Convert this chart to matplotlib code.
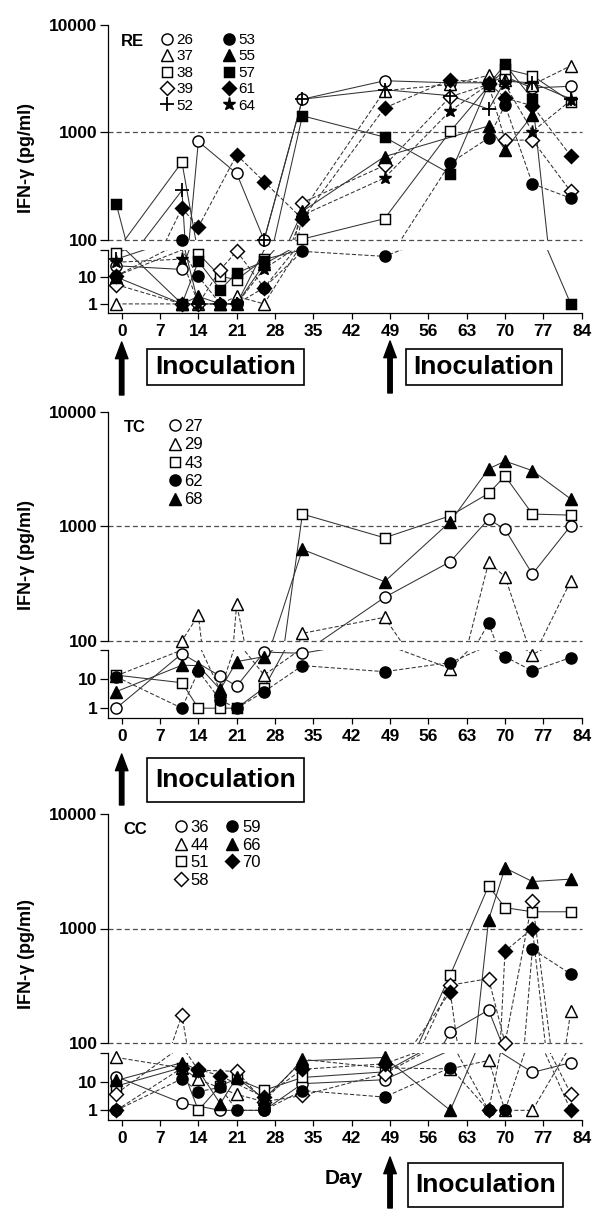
import numpy as np
import matplotlib
matplotlib.use('Agg')
import matplotlib.pyplot as plt
from matplotlib.lines import Line2D
from matplotlib.patches import Rectangle
from matplotlib.ticker import NullLocator

plt.rcParams['font.family'] = ['Liberation Sans', 'DejaVu Sans']
plt.rcParams['font.weight'] = 'bold'

W, H = 600, 1221
N = None

# sampling days and x ticks
days = [-1, 11, 14, 18, 21, 26, 33, 48, 60, 67, 70, 75, 82]
xticks = list(range(0, 85, 7))

# RE group (IFN-gamma, pg/ml)
re_ids = ['26', '37', '38', '39', '52', '53', '55', '57', '61', '64']
re_26 = [26, 19, 825, N, 416, 100, 2040, 3030, 2900, 2900, 3300, 2600, 2690]
re_37 = [1, 1, 1, 1, 1.9, 1, 185, 2450, 2800, 3400, 3100, 2780, 4170]
re_38 = [78, 530, 73, 10.5, 8, 45, 102, 158, 1024, 2700, 3900, 3380, 1940]
re_39 = [5.2, 1, 1, 18.6, 90, 4, 223, 494, 2150, 2800, 850, 850, 283]
re_52 = [46, 289, 1, 1, 1, 100, 2040, 2500, 2200, 1650, 3000, 2900, 2050]
re_53 = [11, 100, 10.5, 1, 1, 4, 89, 58, 520, 890, 1800, 333, 245]
re_55 = [10, 1, 1.9, 1, 1, 30, 185, 597, N, 1150, 690, 1450, N]
re_57 = [217, 1, 38, 3.4, 14, 38, 1430, 906, 413, 2800, 4300, 2050, 1]
re_61 = [11, 198, 132, N, 620, 349, 157, 1690, 3100, 2900, 2100, 1770, 608]
re_64 = [35, 46, 1, 1, 1, 20, 170, 378, 1590, 2800, 2800, 1020, 1990]

# TC group
tc_ids = ['27', '29', '43', '62', '68']
tc_27 = [1, 75, N, 12.6, 5.7, 85, 77, 239, 490, 1155, 937, 382, 1010]
tc_29 = [13, 100, 167, 4, 209, 13.8, 116, 160, 23, 483, 362, 70, 332]
tc_43 = [13.7, 7.5, 1, 1, 1, 5, 1276, 792, 1233, 1935, 2741, 1276, 1250]
tc_62 = [12, 1, 19, 1.9, 1, 3.7, 29, 18, 37, 142, 59, 19, 55]
tc_68 = [3.7, 30, 29, 4.4, 40, 59, 627, 328, 1096, 3165, 3703, 3055, 1730]

# CC group
cc_ids = ['36', '44', '51', '58', '59', '66', '70']
cc_36 = [15, 1.8, N, 1, N, 1, 8.5, 11.7, 125, 194, N, 21, 46]
cc_44 = [70, 30, 12, N, 3.6, 2, 60, 30, 28, 55, 1, 1, 190]
cc_51 = [7, 31, 1, 7.3, 12.4, 5, 14, 22, 393, 2360, 1520, 1400, 1400]
cc_58 = [3.8, 175, 25, N, 23, 2, 3.3, 19, 320, 365, 100, 1750, 3.8]
cc_59 = [1, 12.6, 4.5, 6.3, 1, 1, 4.9, 2.9, 31, 1, 1, 660, 400]
cc_66 = [11, 46, 25, 1.7, 14, 2.5, 53, 70, 1, 1190, 3380, 2570, 2700]
cc_70 = [1, 30, 27, 16, N, 2.9, 27, 42, 280, 1, 635, 1000, 1]

# marker, filled, dashed, size
OC = ('o', False, False, 8)
OT = ('^', False, True, 8)
OS = ('s', False, False, 7.5)
OD = ('D', False, True, 7.5)
PL = ('+', False, False, 9.5)
FC = ('o', True, True, 8)
FT = ('^', True, False, 8)
FS = ('s', True, False, 7.5)
FD = ('D', True, True, 7.5)
ST = ('*', True, True, 9.5)

X0, X1 = 108, 581.7


def rect(top, bottom):
    return [X0 / W, 1 - bottom / H, (X1 - X0) / W, (bottom - top) / H]


def draw_panel(tag, ids, series, styles, up, lo, ncol, leg_xy, leg_fs, leg_sp, col_sp, tag_xy, ylab_y):
    ax_up = fig.add_axes(rect(*up))
    ax_lo = fig.add_axes(rect(*lo))
    for ax, lim in ((ax_up, (100, 10000)), (ax_lo, (0.46, 100))):
        ax.set_yscale('log')
        ax.set_ylim(*lim)
        ax.set_xlim(-2.5, 84)
        ax.yaxis.set_minor_locator(NullLocator())
        ax.patch.set_visible(False)
        for s in ('top', 'right'):
            ax.spines[s].set_visible(False)
        for s in ('left', 'bottom'):
            ax.spines[s].set_linewidth(0.9)
        ax.tick_params(direction='out', length=5.5, width=0.9, labelsize=12.5, pad=2)
    ax_up.spines['bottom'].set_visible(False)
    ax_up.tick_params(axis='x', bottom=False, labelbottom=False)
    ax_up.set_yticks([100, 1000, 10000], ['100', '1000', '10000'])
    ax_lo.set_yticks([1, 10, 100], ['1', '10', ''])
    ax_lo.set_xticks(xticks, [str(t) for t in xticks])
    ax_lo.tick_params(axis='x', length=4, pad=4)
    for y in (100, 1000):
        ax_up.axhline(y, color='0.3', lw=0.9, ls=(0, (4, 2.5)), clip_on=False, zorder=1)

    x = np.array(days, float)
    handles = []
    for vals, (mk, filled, dashed, ms) in zip(series, styles):
        v = np.array([np.nan if a is None else a for a in vals], float)
        ok = ~np.isnan(v)
        ls = (0, (4, 2)) if dashed else '-'
        fc = 'black' if filled else 'white'
        for ax in (ax_up, ax_lo):
            ax.plot(x[ok], v[ok], ls=ls, color='0.2', lw=0.75, zorder=2)
        mkw = dict(ls='none', marker=mk, ms=ms, mfc=fc, mec='black',
                   mew=1.3 if mk == '+' else 1.05, clip_on=False, zorder=3)
        hi = ok & (v >= 100)
        low = ok & (v < 100)
        ax_up.plot(x[hi], v[hi], **mkw)
        ax_lo.plot(x[low], v[low], **mkw)
        handles.append(Line2D([], [], **mkw))

    lx = (leg_xy[0] - X0) / (X1 - X0)
    ly = 1 - (leg_xy[1] - up[0]) / (up[1] - up[0])
    ax_up.legend(handles, ids, ncol=ncol, loc='upper left', bbox_to_anchor=(lx, ly),
                 frameon=False, borderpad=0, borderaxespad=0, handlelength=0.9,
                 handletextpad=0.15, labelspacing=leg_sp, columnspacing=col_sp,
                 prop={'size': leg_fs, 'weight': 'normal'})
    fig.text(tag_xy[0] / W, 1 - tag_xy[1] / H, tag, fontsize=12, fontweight='bold',
             ha='left', va='center')
    fig.text(26.7 / W, 1 - ylab_y / H, 'IFN-γ (pg/ml)', rotation=90, fontsize=13,
             fontweight='bold', ha='center', va='center')
    return ax_lo


def box(left, top, right, bottom):
    fig.patches.append(Rectangle((left / W, 1 - bottom / H), (right - left) / W,
                                 (bottom - top) / H, transform=fig.transFigure,
                                 fill=False, ec='black', lw=1.2))
    fig.text((left + right) / 2 / W, 1 - (top + bottom) / 2 / H, 'Inoculation',
             fontsize=19, fontweight='bold', ha='center', va='center')


def arrow(ax, day, tip, base):
    ax.annotate('', xy=(day, 1 - tip / H), xytext=(day, 1 - base / H),
                xycoords=('data', 'figure fraction'), textcoords=('data', 'figure fraction'),
                annotation_clip=False,
                arrowprops=dict(arrowstyle='simple,head_length=0.6,head_width=0.45,tail_width=0.16',
                                mutation_scale=20, fc='black', ec='black', shrinkA=0, shrinkB=0))


fig = plt.figure(figsize=(W / 100, H / 100), dpi=100)

ax1 = draw_panel('RE', re_ids,
                 [re_26, re_37, re_38, re_39, re_52, re_53, re_55, re_57, re_61, re_64],
                 [OC, OT, OS, OD, PL, FC, FT, FS, FD, ST],
                 (25, 240), (250, 313), 2, (160, 33), 11, 0.16, 1.9, (121, 41.7), 158)
ax2 = draw_panel('TC', tc_ids, [tc_27, tc_29, tc_43, tc_62, tc_68],
                 [OC, OT, OS, FC, FT],
                 (411.7, 640.7), (650, 718), 1, (167, 419), 12, 0.2, 1.5, (124, 428), 555)
ax3 = draw_panel('CC', cc_ids, [cc_36, cc_44, cc_51, cc_58, cc_59, cc_66, cc_70],
                 [OC, OT, OS, OD, FC, FT, FD],
                 (814, 1043), (1053, 1120), 2, (173, 820), 12, 0.16, 0.95, (123, 829), 954)

box(146.7, 349, 304, 385)
box(405.7, 349, 561.7, 385)
arrow(ax1, 0, 342, 395)
arrow(ax1, 49, 341, 393)

box(146.7, 758, 304, 802)
arrow(ax2, 0, 754, 805)

box(408, 1163, 563, 1207)
arrow(ax3, 49, 1157, 1208)
fig.text(344 / W, 1 - 1178 / H, 'Day', fontsize=15, fontweight='bold', ha='center', va='center')

fig.savefig('out.png', dpi=100)
